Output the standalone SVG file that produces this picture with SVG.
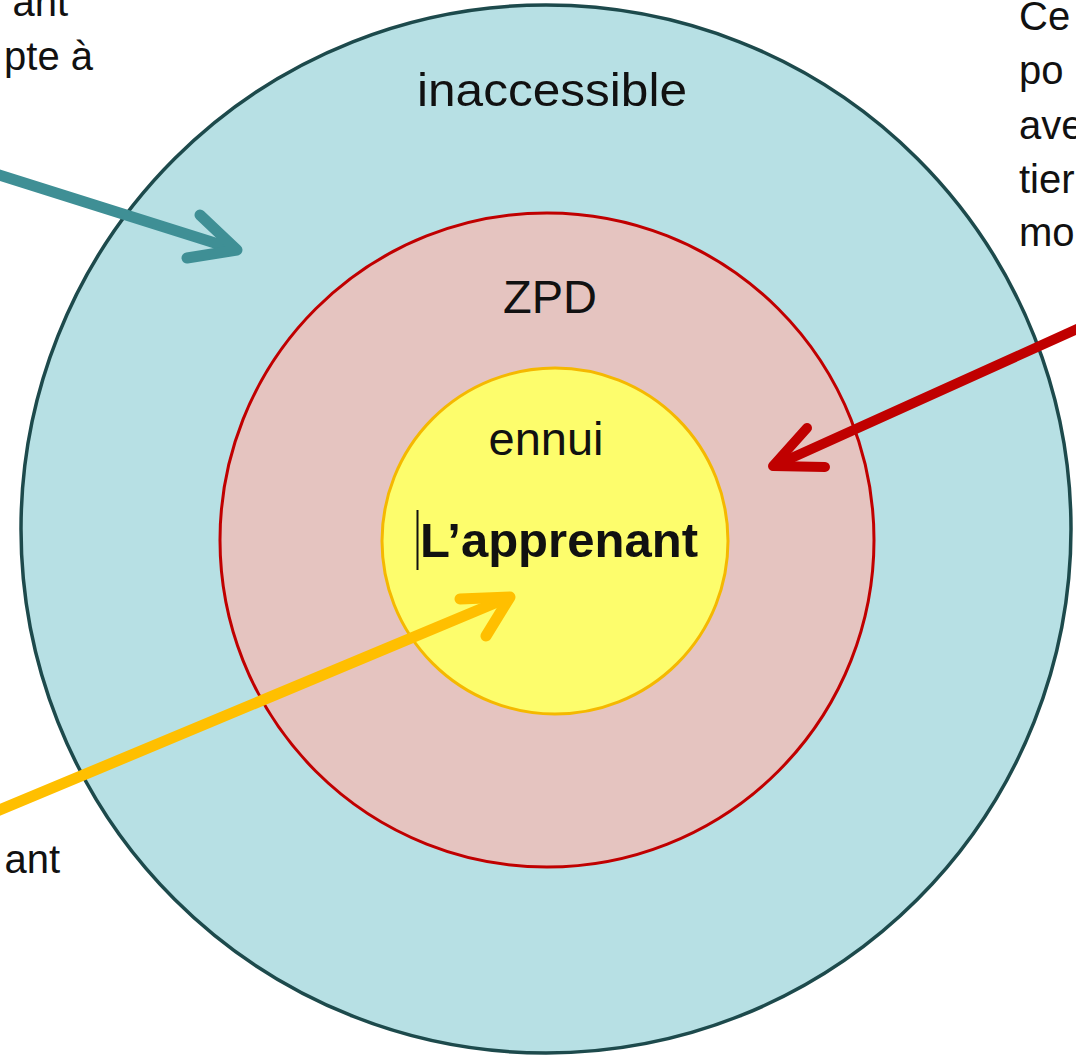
<svg xmlns="http://www.w3.org/2000/svg" width="1076" height="1060" viewBox="0 0 1076 1060">
  <style>
    .lbl { font-family: "Liberation Sans", Arial, sans-serif; fill: #111111; }
    .side { font-size: 40px; }
    .ring { font-size: 47px; }
    .core { font-size: 48px; font-weight: bold; }
    .arrow { fill: none; stroke-width: 11; stroke-linecap: round; stroke-linejoin: round; }
  </style>
  <rect width="1076" height="1060" fill="#ffffff"/>

  <!-- concentric zones -->
  <g id="zone-inaccessible">
    <ellipse cx="546" cy="529" rx="525" ry="524" fill="#b7e0e4" stroke="#1d4a4c" stroke-width="3.5"/>
    <text class="lbl ring" x="552" y="106" text-anchor="middle" textLength="270" lengthAdjust="spacingAndGlyphs">inaccessible</text>
  </g>
  <g id="zone-zpd">
    <circle cx="547" cy="540" r="327" fill="#e5c4c0" stroke="#c00000" stroke-width="3"/>
    <text class="lbl ring" x="550" y="313" text-anchor="middle">ZPD</text>
  </g>
  <g id="zone-ennui">
    <circle cx="555" cy="541" r="173" fill="#fdfd6c" stroke="#f5b800" stroke-width="3"/>
    <text class="lbl ring" x="546" y="455" text-anchor="middle">ennui</text>
  </g>
  <g id="learner">
    <line x1="417.5" y1="510" x2="417.5" y2="570" stroke="#111111" stroke-width="2"/>
    <text class="lbl core" x="559" y="557" text-anchor="middle" textLength="278" lengthAdjust="spacingAndGlyphs">L’apprenant</text>
  </g>

  <!-- side captions, partly outside the canvas -->
  <g id="caption-left-top">
    <text class="lbl side" x="68" y="16" text-anchor="end">ant</text>
    <text class="lbl side" x="93" y="70" text-anchor="end">pte à</text>
  </g>
  <g id="caption-right">
    <text class="lbl side" x="1019" y="30">Ce</text>
    <text class="lbl side" x="1019" y="84">po</text>
    <text class="lbl side" x="1019" y="139">ave</text>
    <text class="lbl side" x="1019" y="193">tier</text>
    <text class="lbl side" x="1019" y="246">mo</text>
  </g>
  <g id="caption-left-bottom">
    <text class="lbl side" x="60" y="873" text-anchor="end">ant</text>
  </g>

  <!-- pointers -->
  <g id="connectors">
    <g stroke="#3f8f95" class="arrow">
      <line x1="-10" y1="172" x2="234" y2="249"/>
      <polyline points="200,215 237,250 187,258"/>
    </g>
    <g stroke="#c00000" class="arrow" style="stroke-width:10">
      <line x1="1086" y1="325" x2="776" y2="465"/>
      <polyline points="807,428 773,466 825,467"/>
    </g>
    <g stroke="#ffbf00" class="arrow">
      <line x1="-10" y1="814" x2="507" y2="598"/>
      <polyline points="460,599 510,597 486,636"/>
    </g>
  </g>
</svg>
